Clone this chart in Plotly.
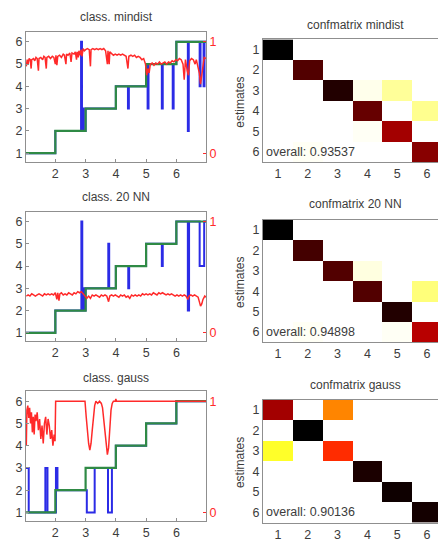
import plotly.graph_objects as go

# ---------------- data ----------------
methods = ["mindist", "20 NN", "gauss"]
overall = ["0.93537", "0.94898", "0.90136"]

true_x = [1.03, 2.0, 3.0, 4.0, 5.0, 6.0, 7.0]
true_class = [1, 2, 3, 4, 5, 6, 6]

# estimated class (step changes)
mindist_est_x = [1.03, 2.0, 2.85, 2.88, 2.91, 2.93, 3.0, 4.0, 4.40, 4.43, 5.0, 5.05, 5.08,
                 5.52, 5.55, 5.88, 5.91, 6.0, 6.38, 6.41, 6.77, 6.80, 6.90, 6.93, 7.0]
mindist_est = [1, 2, 6, 2, 3, 2, 3, 4, 3, 4, 5, 3, 5, 3, 5, 3, 5, 6, 2, 6, 4, 6, 4, 6, 6]

nn_est_x = [1.03, 2.0, 2.86, 2.89, 2.92, 2.94, 3.0, 3.75, 3.78, 4.0, 4.41, 4.44, 5.0,
            5.52, 5.55, 6.0, 6.38, 6.42, 6.77, 6.92, 7.0]
nn_est = [1, 2, 6, 2, 3, 2, 3, 5, 3, 4, 3, 4, 5, 4, 5, 6, 2, 6, 4, 6, 6]

gauss_est_x = [1.03, 1.12, 1.67, 1.74, 2.02, 2.07, 3.04, 3.30, 3.74, 3.87, 4.0, 5.0, 6.0, 7.0]
gauss_est = [3, 1, 3, 1, 3, 2, 1, 3, 1, 3, 4, 5, 6, 6]

# confidence (right axis, 0..1)
mindist_conf_x = [1.04, 1.07, 1.10, 1.13, 1.17, 1.20, 1.22, 1.28, 1.32, 1.36, 1.40, 1.44, 1.46,
                  1.52, 1.58, 1.62, 1.66, 1.70, 1.72, 1.78, 1.84, 1.90, 1.95, 2.00, 2.02, 2.05,
                  2.08, 2.14, 2.20, 2.26, 2.30, 2.35, 2.37, 2.42, 2.48, 2.52, 2.55, 2.62, 2.66,
                  2.70, 2.72, 2.76, 2.78, 2.82, 2.85, 2.88, 2.92, 2.96, 3.00, 3.06, 3.12, 3.16,
                  3.18, 3.24, 3.30, 3.36, 3.42, 3.48, 3.54, 3.60, 3.66, 3.72, 3.74, 3.78, 3.80,
                  3.86, 3.92, 3.98, 4.04, 4.10, 4.16, 4.22, 4.28, 4.34, 4.40, 4.43, 4.50, 4.56,
                  4.62, 4.68, 4.74, 4.80, 4.86, 4.92, 4.98, 5.02, 5.06, 5.10, 5.14, 5.20, 5.26,
                  5.32, 5.38, 5.44, 5.50, 5.56, 5.62, 5.68, 5.74, 5.80, 5.86, 5.92, 5.98, 6.04,
                  6.10, 6.16, 6.22, 6.26, 6.30, 6.36, 6.40, 6.44, 6.50, 6.56, 6.62, 6.66, 6.72,
                  6.76, 6.80, 6.84, 6.88, 6.92, 6.98]
mindist_conf = [0.78, 0.84, 0.80, 0.85, 0.84, 0.76, 0.84, 0.85, 0.83, 0.86, 0.85, 0.74, 0.85,
                0.86, 0.84, 0.87, 0.86, 0.76, 0.86, 0.87, 0.85, 0.87, 0.86, 0.80, 0.88, 0.79,
                0.87, 0.88, 0.86, 0.89, 0.88, 0.80, 0.89, 0.88, 0.90, 0.82, 0.90, 0.89, 0.91,
                0.84, 0.91, 0.86, 0.92, 0.88, 0.93, 0.87, 0.94, 0.92, 0.93, 0.94, 0.93, 0.78,
                0.93, 0.94, 0.93, 0.94, 0.93, 0.94, 0.93, 0.94, 0.92, 0.80, 0.92, 0.80, 0.91,
                0.89, 0.88, 0.89, 0.88, 0.89, 0.88, 0.89, 0.88, 0.87, 0.76, 0.87, 0.88, 0.87,
                0.88, 0.86, 0.87, 0.86, 0.84, 0.85, 0.80, 0.70, 0.76, 0.72, 0.80, 0.81, 0.79,
                0.81, 0.80, 0.82, 0.80, 0.81, 0.82, 0.80, 0.82, 0.81, 0.83, 0.82, 0.84, 0.83,
                0.85, 0.84, 0.80, 0.66, 0.84, 0.74, 0.70, 0.83, 0.85, 0.84, 0.80, 0.84, 0.78,
                0.72, 0.62, 0.70, 0.76, 0.86, 0.85]

nn_conf_x = [1.04, 1.10, 1.16, 1.22, 1.28, 1.34, 1.40, 1.46, 1.52, 1.58, 1.64, 1.70, 1.76,
             1.82, 1.88, 1.94, 2.00, 2.05, 2.08, 2.12, 2.15, 2.20, 2.26, 2.32, 2.38, 2.44,
             2.50, 2.56, 2.62, 2.68, 2.74, 2.80, 2.86, 2.92, 2.98, 3.04, 3.10, 3.16, 3.22,
             3.28, 3.34, 3.40, 3.46, 3.52, 3.58, 3.64, 3.70, 3.76, 3.80, 3.86, 3.92, 3.98,
             4.04, 4.10, 4.16, 4.22, 4.28, 4.34, 4.40, 4.46, 4.52, 4.58, 4.64, 4.70, 4.76,
             4.82, 4.88, 4.94, 5.00, 5.06, 5.12, 5.18, 5.24, 5.30, 5.36, 5.42, 5.48, 5.54,
             5.60, 5.66, 5.72, 5.78, 5.84, 5.90, 5.96, 6.02, 6.08, 6.14, 6.20, 6.26, 6.32,
             6.38, 6.42, 6.48, 6.54, 6.60, 6.66, 6.72, 6.76, 6.80, 6.84, 6.88, 6.94, 6.98]
nn_conf = [0.33, 0.34, 0.33, 0.35, 0.34, 0.33, 0.34, 0.35, 0.34, 0.33, 0.35, 0.34, 0.35,
           0.34, 0.35, 0.34, 0.36, 0.30, 0.36, 0.29, 0.35, 0.36, 0.34, 0.35, 0.34, 0.36,
           0.35, 0.34, 0.36, 0.35, 0.37, 0.36, 0.37, 0.35, 0.33, 0.31, 0.33, 0.31, 0.34,
           0.33, 0.34, 0.33, 0.32, 0.34, 0.33, 0.34, 0.33, 0.28, 0.33, 0.34, 0.33, 0.34,
           0.33, 0.32, 0.34, 0.33, 0.34, 0.32, 0.33, 0.31, 0.34, 0.33, 0.34, 0.33, 0.34,
           0.33, 0.35, 0.34, 0.35, 0.34, 0.35, 0.34, 0.36, 0.35, 0.34, 0.36, 0.35, 0.36,
           0.35, 0.34, 0.35, 0.34, 0.35, 0.34, 0.33, 0.34, 0.33, 0.34, 0.33, 0.34, 0.33,
           0.30, 0.33, 0.34, 0.33, 0.34, 0.33, 0.32, 0.28, 0.24, 0.26, 0.30, 0.33, 0.32]

gauss_conf_x = [1.04, 1.06, 1.09, 1.12, 1.15, 1.18, 1.21, 1.24, 1.27, 1.30, 1.33, 1.36, 1.40,
                1.44, 1.48, 1.52, 1.56, 1.60, 1.64, 1.68, 1.72, 1.76, 1.80, 1.84, 1.88, 1.92,
                1.96, 1.99, 2.01, 2.98, 3.02, 3.06, 3.10, 3.14, 3.18, 3.22, 3.26, 3.30, 3.34,
                3.40, 3.46, 3.52, 3.56, 3.60, 3.64, 3.68, 3.72, 3.76, 3.78, 3.82, 3.84, 3.88,
                3.92, 3.98, 4.00, 4.02, 7.0]
gauss_conf = [0.60, 0.92, 0.96, 0.85, 0.94, 0.80, 0.90, 0.72, 0.86, 0.70, 0.88, 0.82, 0.90,
              0.74, 0.84, 0.66, 0.78, 0.62, 0.80, 0.86, 0.70, 0.84, 0.78, 0.66, 0.74, 0.60,
              0.70, 0.64, 1.00, 1.00, 0.86, 0.72, 0.62, 0.56, 0.62, 0.74, 0.86, 0.96, 1.00,
              0.98, 1.00, 0.98, 0.94, 0.84, 0.74, 0.62, 0.52, 0.58, 0.70, 0.84, 0.92, 0.98,
              1.00, 1.00, 1.02, 1.00, 1.00]

classes = [1, 2, 3, 4, 5, 6]
# confusion matrices: rows = estimates, columns = true class
conf_mindist = [[1.00, 0.00, 0.00, 0.00, 0.00, 0.00],
                [0.00, 0.88, 0.00, 0.00, 0.00, 0.00],
                [0.00, 0.00, 0.95, 0.02, 0.10, 0.00],
                [0.00, 0.00, 0.00, 0.85, 0.00, 0.11],
                [0.00, 0.00, 0.00, 0.01, 0.76, 0.00],
                [0.00, 0.01, 0.00, 0.00, 0.00, 0.80]]
conf_nn = [[1.00, 0.00, 0.00, 0.00, 0.00, 0.00],
           [0.00, 0.90, 0.00, 0.00, 0.00, 0.00],
           [0.00, 0.00, 0.88, 0.03, 0.00, 0.00],
           [0.00, 0.00, 0.00, 0.88, 0.00, 0.13],
           [0.00, 0.00, 0.00, 0.00, 0.95, 0.00],
           [0.00, 0.01, 0.00, 0.00, 0.01, 0.73]]
conf_gauss = [[0.76, 0.00, 0.43, 0.00, 0.00, 0.00],
              [0.00, 1.00, 0.00, 0.00, 0.00, 0.00],
              [0.21, 0.00, 0.56, 0.00, 0.00, 0.00],
              [0.00, 0.00, 0.00, 0.96, 0.00, 0.00],
              [0.00, 0.00, 0.00, 0.00, 0.98, 0.00],
              [0.00, 0.00, 0.00, 0.00, 0.00, 0.97]]

est_x = [mindist_est_x, nn_est_x, gauss_est_x]
est_y = [mindist_est, nn_est, gauss_est]
cnf_x = [mindist_conf_x, nn_conf_x, gauss_conf_x]
cnf_y = [mindist_conf, nn_conf, gauss_conf]
mats = [conf_mindist, conf_nn, conf_gauss]

# ---------------- layout helpers ----------------
W, H = 438, 542
FONT = "Liberation Sans, Arial, sans-serif"
TXT = "#3c3c3c"
FRAME = "#8f8f8f"
RED = "#ff2a2a"
GREEN = "#2f8a45"
BLUE = "#2b2be6"


def py(p):
    return 1 - p / H


def ref(letter, n):
    return letter if n == 1 else f"{letter}{n}"


def key(letter, n):
    return f"{letter}axis" if n == 1 else f"{letter}axis{n}"


left_top = [32.3, 213.3, 394.3]
left_h = 130.5
right_top = [39.7, 221.2, 402.7]
right_h = 123.7
left_title_y = [17, 198, 380.5]
right_title_y = [25, 206, 388]

fig = go.Figure()
layout = dict(width=W, height=H, margin=dict(l=0, r=0, t=0, b=0),
              paper_bgcolor="white", plot_bgcolor="white", showlegend=False,
              font=dict(family=FONT, size=12, color=TXT))
annotations = []

for r in range(3):
    xl, xr = 2 * r + 1, 2 * r + 2
    yl, yc, yh = 3 * r + 1, 3 * r + 2, 3 * r + 3

    # ---- left: class timeline ----
    fig.add_trace(go.Scatter(x=est_x[r], y=est_y[r], mode="lines", line_shape="hv",
                             line=dict(color=BLUE, width=2),
                             xaxis=ref("x", xl), yaxis=ref("y", yl)))
    fig.add_trace(go.Scatter(x=true_x, y=true_class, mode="lines", line_shape="hv",
                             line=dict(color=GREEN, width=2.2),
                             xaxis=ref("x", xl), yaxis=ref("y", yl)))
    fig.add_trace(go.Scatter(x=cnf_x[r], y=cnf_y[r], mode="lines",
                             line=dict(color=RED, width=1.5),
                             xaxis=ref("x", xl), yaxis=ref("y", yc)))

    dom_y = [py(left_top[r] + left_h), py(left_top[r])]
    layout[key("x", xl)] = dict(domain=[26 / W, 206 / W], anchor=ref("y", yl),
                                range=[1.03, 6.98], tickvals=[2, 3, 4, 5, 6],
                                showline=True, mirror=True, linecolor=FRAME, linewidth=1,
                                ticks="inside", ticklen=3, tickcolor=FRAME,
                                showgrid=False, zeroline=False, fixedrange=True,
                                tickfont=dict(size=12.5, color=TXT))
    layout[key("y", yl)] = dict(domain=dom_y, anchor=ref("x", xl),
                                range=[0.62, 6.44], tickvals=[1, 2, 3, 4, 5, 6],
                                showline=True, linecolor=FRAME, linewidth=1,
                                ticks="inside", ticklen=3, tickcolor=FRAME,
                                showgrid=False, zeroline=False,
                                tickfont=dict(size=12.5, color=TXT))
    layout[key("y", yc)] = dict(overlaying=ref("y", yl), anchor=ref("x", xl), side="right",
                                range=[-0.076, 1.088], tickvals=[0, 1],
                                showline=True, linecolor=FRAME, linewidth=1,
                                ticks="inside", ticklen=3, tickcolor=RED,
                                showgrid=False, zeroline=False,
                                tickfont=dict(size=12.5, color=RED))
    annotations.append(dict(text=f"class. {methods[r]}", x=116 / W, y=py(left_title_y[r]),
                            xref="paper", yref="paper", showarrow=False,
                            xanchor="center", yanchor="middle",
                            font=dict(size=12, color=TXT)))

    # ---- right: confusion matrix ----
    fig.add_trace(go.Heatmap(z=mats[r], x=classes, y=classes, zmin=0, zmax=1,
                             colorscale=[[0, "#ffffff"], [0.25, "#ffff00"],
                                         [0.625, "#ff0000"], [1, "#000000"]],
                             showscale=False, zsmooth=False,
                             xaxis=ref("x", xr), yaxis=ref("y", yh)))
    layout[key("x", xr)] = dict(domain=[263 / W, 1.0], anchor=ref("y", yh),
                                range=[0.5, 6.366], tickvals=classes,
                                showline=True, mirror=True, linecolor=FRAME, linewidth=1,
                                ticks="", showgrid=False, zeroline=False,
                                tickfont=dict(size=12.5, color=TXT))
    layout[key("y", yh)] = dict(domain=[py(right_top[r] + right_h), py(right_top[r])],
                                anchor=ref("x", xr), range=[6.5, 0.5], tickvals=classes,
                                showline=True, linecolor=FRAME, linewidth=1,
                                ticks="", showgrid=False, zeroline=False,
                                tickfont=dict(size=12.5, color=TXT))
    annotations.append(dict(text=f"confmatrix {methods[r]}", x=355 / W,
                            y=py(right_title_y[r]), xref="paper", yref="paper",
                            showarrow=False, xanchor="center", yanchor="middle",
                            font=dict(size=12, color=TXT)))
    annotations.append(dict(text="estimates", x=240 / W,
                            y=py(right_top[r] + right_h / 2 + 2), xref="paper", yref="paper",
                            textangle=-90, showarrow=False, xanchor="center",
                            yanchor="middle", font=dict(size=12, color=TXT)))
    annotations.append(dict(text=f"overall: {overall[r]}", x=0.55, y=6,
                            xref=ref("x", xr), yref=ref("y", yh), showarrow=False,
                            xanchor="left", yanchor="middle",
                            font=dict(size=12.5, color=TXT)))

layout["annotations"] = annotations
fig.update_layout(**layout)

fig.write_html("out.html", config={"displayModeBar": False},
               post_script="document.body.style.margin='0';")
